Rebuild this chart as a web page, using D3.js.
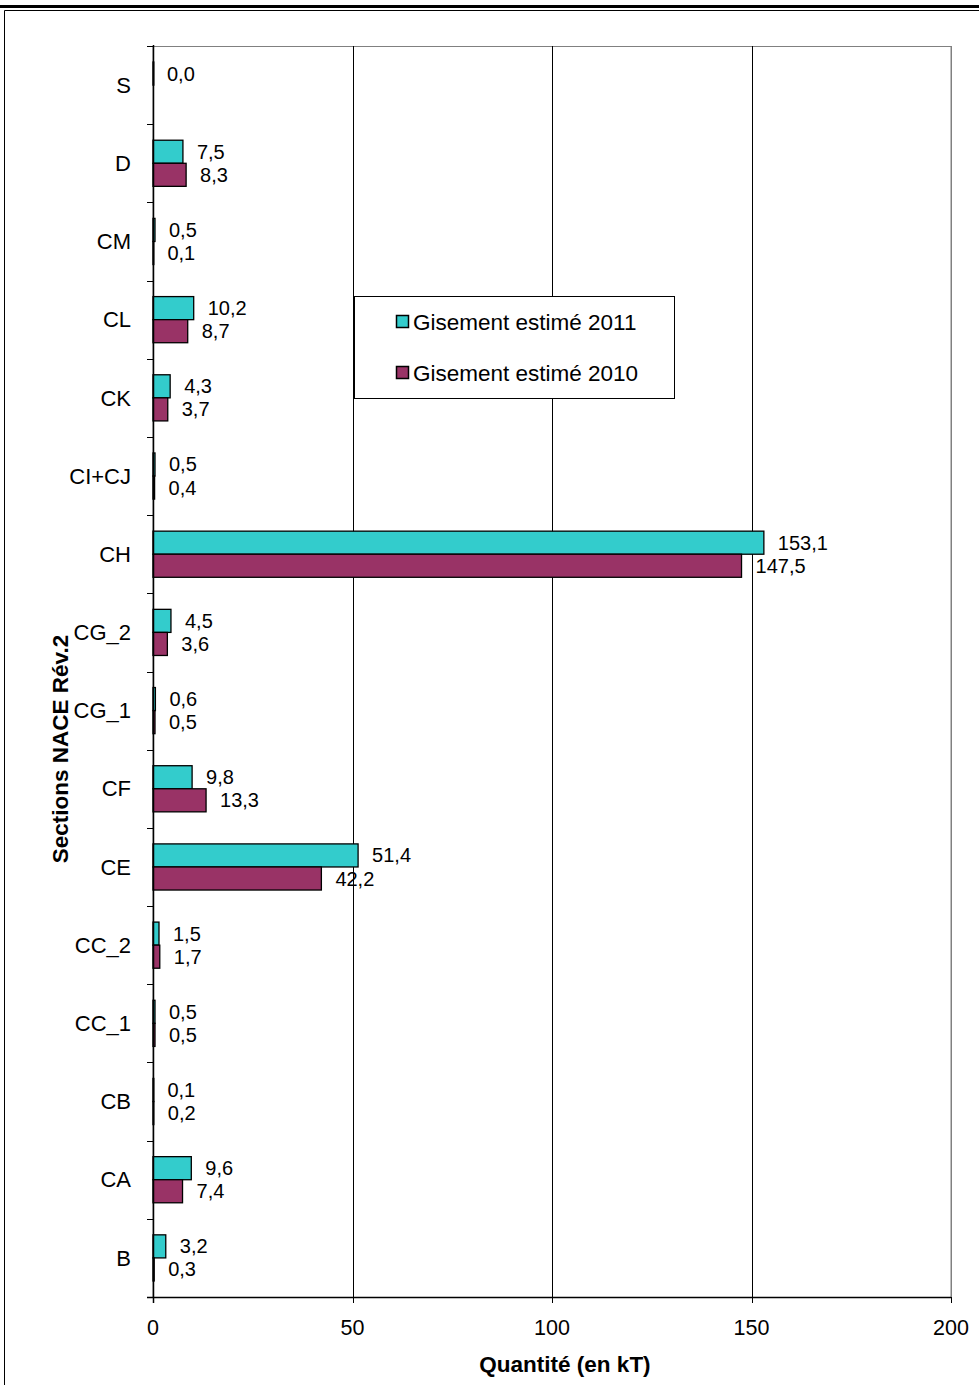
<!DOCTYPE html>
<html>
<head>
<meta charset="utf-8">
<script src="https://cdn.jsdelivr.net/npm/d3@7/dist/d3.min.js"></script>
<style>
  html, body { margin: 0; padding: 0; background: #fff; }
  svg { display: block; font-family: Arial, "Liberation Sans", sans-serif; }
</style>
</head>
<body>
<svg id="chart" width="979" height="1385"></svg>
<script>
// NACE Rév.2 sections, top to bottom
const categories = ["S", "D", "CM", "CL", "CK", "CI+CJ", "CH", "CG_2", "CG_1", "CF", "CE", "CC_2", "CC_1", "CB", "CA", "B"];
const seriesNames = ["Gisement estimé 2011", "Gisement estimé 2010"];
const values2011 = [0.0, 7.5, 0.5, 10.2, 4.3, 0.5, 153.1, 4.5, 0.6, 9.8, 51.4, 1.5, 0.5, 0.1, 9.6, 3.2];
const values2010 = [null, 8.3, 0.1, 8.7, 3.7, 0.4, 147.5, 3.6, 0.5, 13.3, 42.2, 1.7, 0.5, 0.2, 7.4, 0.3];
const xTicks = [0, 50, 100, 150, 200];
const colors = ["#33CCCC", "#993366"];

const svg = d3.select("#chart");

// page frame
svg.append("line").attr("x1", 0).attr("x2", 979).attr("y1", 6.5).attr("y2", 6.5)
  .attr("stroke", "#000").attr("stroke-width", 3);
svg.append("path").attr("d", "M4.5,1385 V10.5 H979")
  .attr("fill", "none").attr("stroke", "#000").attr("stroke-width", 1);

const plotLeft = 153, plotRight = 951, plotTop = 46, plotBottom = 1297;

const x = d3.scaleLinear().domain([0, 200]).range([plotLeft, plotRight]);
const y = d3.scaleBand().domain(categories).range([plotTop, plotBottom]).padding(0);
const bw = y.bandwidth();
const ySub = d3.scaleBand().domain(seriesNames).range([bw * 0.205, bw * 0.795]).padding(0);

// plot area border
svg.append("rect").attr("x", plotLeft).attr("y", plotTop + 0.5).attr("width", plotRight - plotLeft).attr("height", plotBottom - plotTop)
  .attr("fill", "none").attr("stroke", "#808080").attr("stroke-width", 1);

// vertical gridlines
svg.append("g").selectAll("line").data(xTicks.filter(t => t > 0)).join("line")
  .attr("x1", d => Math.round(x(d)) + 0.5).attr("x2", d => Math.round(x(d)) + 0.5)
  .attr("y1", plotTop).attr("y2", plotBottom)
  .attr("stroke", d => d === 200 ? "#808080" : "#000").attr("stroke-width", 1);

// bars
const rows = categories.map((c, i) => ({ cat: c, vals: [values2011[i], values2010[i]] }));
const groups = svg.append("g").selectAll("g").data(rows).join("g")
  .attr("transform", d => `translate(0,${y(d.cat)})`);

groups.selectAll("rect").data(d => d.vals.map((v, k) => ({ v, k })).filter(e => e.v !== null)).join("rect")
  .attr("x", x(0))
  .attr("y", e => ySub(seriesNames[e.k]))
  .attr("width", e => Math.max(x(e.v) - x(0), 0.8))
  .attr("height", ySub.bandwidth())
  .attr("fill", e => colors[e.k])
  .attr("stroke", "#000").attr("stroke-width", 1.3);

groups.selectAll("text").data(d => d.vals.map((v, k) => ({ v, k })).filter(e => e.v !== null)).join("text")
  .attr("x", e => x(e.v) + 14)
  .attr("y", e => ySub(seriesNames[e.k]) + ySub.bandwidth() / 2)
  .attr("dy", "0.35em")
  .attr("font-size", 20)
  .attr("fill", "#000")
  .text(e => d3.format(".1f")(e.v).replace(".", ","));

// y axis
const yAxis = svg.append("g").attr("transform", `translate(${plotLeft},0)`);
yAxis.append("line").attr("x1", 0.5).attr("x2", 0.5).attr("y1", plotTop - 1).attr("y2", plotBottom + 6)
  .attr("stroke", "#000").attr("stroke-width", 1.5);
const boundaries = categories.map(c => y(c)).concat([plotBottom]);
yAxis.selectAll("line.tick").data(boundaries).join("line").attr("class", "tick")
  .attr("x1", -6).attr("x2", 0).attr("y1", d => Math.round(d) + 0.5).attr("y2", d => Math.round(d) + 0.5)
  .attr("stroke", "#000");
yAxis.selectAll("text").data(categories).join("text")
  .attr("x", -22).attr("y", d => y(d) + bw / 2).attr("dy", "0.35em")
  .attr("text-anchor", "end").attr("font-size", 22).text(d => d);

// x axis
const xAxis = svg.append("g").attr("transform", `translate(0,${plotBottom})`);
xAxis.append("line").attr("x1", plotLeft - 6).attr("x2", plotRight).attr("y1", 0.5).attr("y2", 0.5)
  .attr("stroke", "#000").attr("stroke-width", 1.5);
xAxis.selectAll("line.tick").data(xTicks).join("line").attr("class", "tick")
  .attr("x1", d => Math.round(x(d)) + 0.5).attr("x2", d => Math.round(x(d)) + 0.5)
  .attr("y1", 0).attr("y2", 6).attr("stroke", "#000");
xAxis.selectAll("text").data(xTicks).join("text")
  .attr("x", d => x(d)).attr("y", 30).attr("dy", "0.35em")
  .attr("text-anchor", "middle").attr("font-size", 21.5).text(d => d);

// axis titles
svg.append("text").attr("x", 565).attr("y", 1364).attr("dy", "0.35em")
  .attr("text-anchor", "middle").attr("font-size", 22.5).attr("font-weight", "bold")
  .text("Quantité (en kT)");
svg.append("text").attr("transform", "translate(60,749) rotate(-90)").attr("dy", "0.35em")
  .attr("text-anchor", "middle").attr("font-size", 22.5).attr("font-weight", "bold")
  .text("Sections NACE  Rév.2");

// legend
const legend = svg.append("g");
legend.append("rect").attr("x", 354.5).attr("y", 296.5).attr("width", 320).attr("height", 102)
  .attr("fill", "#fff").attr("stroke", "#000").attr("stroke-width", 1);
const items = legend.selectAll("g").data(seriesNames).join("g")
  .attr("transform", (d, i) => `translate(0,${322 + i * 51})`);
items.append("rect").attr("x", 396.5).attr("y", -6.5).attr("width", 12).attr("height", 12)
  .attr("fill", (d, i) => colors[i]).attr("stroke", "#000").attr("stroke-width", 1.5);
items.append("text").attr("x", 413).attr("y", 0).attr("dy", "0.35em")
  .attr("font-size", 22.5).text(d => d);
</script>
</body>
</html>
